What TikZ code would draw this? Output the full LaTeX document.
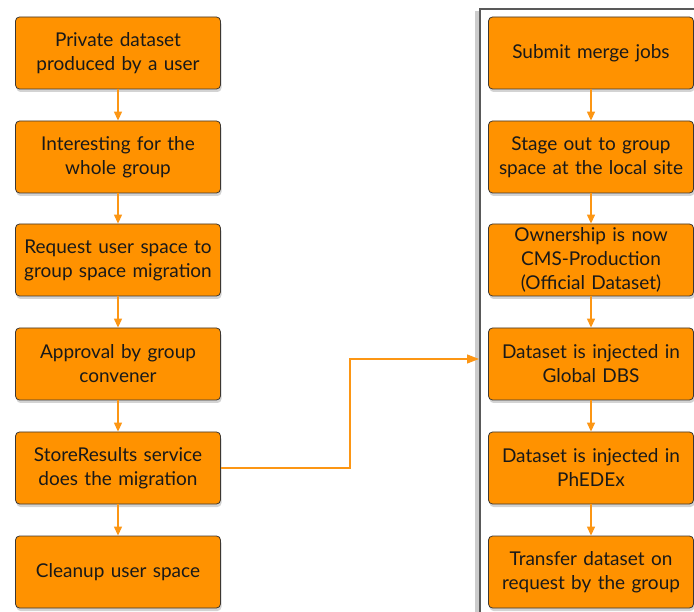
\documentclass[tikz,border=0pt]{standalone}
\usepackage{fontspec}
\setmainfont{Lato}
\usetikzlibrary{shadows,arrows.meta}

\definecolor{boxorange}{RGB}{255,146,0}
\definecolor{arroworange}{RGB}{252,150,20}
\definecolor{boxline}{RGB}{60,55,50}

\tikzset{
  stepbox/.style={draw=boxline, fill=boxorange, rounded corners=4pt, line width=0.8pt,
    minimum width=205, minimum height=72, text width=196, inner xsep=0pt, align=center,
    font=\fontsize{19}{24}\selectfont, text=black!90,
    drop shadow={opacity=0.35, shadow xshift=1pt, shadow yshift=-3pt}},
  flow/.style={draw=arroworange, line width=1.2pt, -{Triangle[length=9pt,width=8pt]}},
}

\begin{document}
\begin{tikzpicture}[x=1pt,y=-1pt]
\useasboundingbox (0,0) rectangle (694,612);

% panel round the merge steps
\fill[black!20] (475,11) rectangle (480,612);
\draw[black!65, line width=1.4pt] (694,9) -- (480,9) -- (480,612);

% user side
\node[stepbox] (s1) at (118,53)  {Private dataset\\produced by a user};
\node[stepbox] (s2) at (118,157) {Interesting for the\\whole group};
\node[stepbox] (s3) at (118,260) {Request user space to\\group space migration};
\node[stepbox] (s4) at (118,364) {Approval by group\\convener};
\node[stepbox] (s5) at (118,468) {StoreResults service\\does the migration};
\node[stepbox] (s6) at (118,572) {Cleanup user space};

% merge side
\node[stepbox] (m1) at (591,53)  {Submit merge jobs};
\node[stepbox] (m2) at (591,157) {Stage out to group\\space at the local site};
\node[stepbox] (m3) at (591,260) {Ownership is now\\CMS-Production\\(Official Dataset)};
\node[stepbox] (m4) at (591,364) {Dataset is injected in\\Global DBS};
\node[stepbox] (m5) at (591,468) {Dataset is injected in\\PhEDEx};
\node[stepbox] (m6) at (591,572) {Transfer dataset on\\request by the group};

\foreach \a/\b in {1/2,2/3,3/4,4/5,5/6}
{
\draw[flow] (s\a) -- (s\b);
\draw[flow] (m\a) -- (m\b);
}

\coordinate (into) at (479,359);
\draw[flow, -{Triangle[length=12pt,width=9pt]}] (s5.east) -- (350,468) |- (into);

\end{tikzpicture}
\end{document}
